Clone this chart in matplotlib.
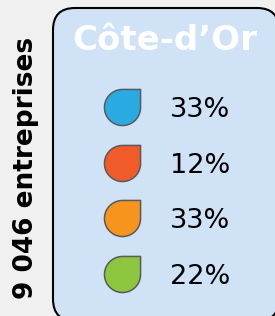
import matplotlib
matplotlib.use("Agg")
import matplotlib.pyplot as plt
import numpy as np
from matplotlib.path import Path
from matplotlib.patches import FancyBboxPatch

# data
region = "Côte-d\u2019Or"
total_label = "9 046 entreprises"
shares = [33, 12, 33, 22]
colors = ["#29abe2", "#f15a29", "#f7941d", "#8dc63f"]

W, H = 275, 316
fig = plt.figure(figsize=(W / 100, H / 100), dpi=100, facecolor="#f0f0f0")

# background layer in pixel coordinates
bg = fig.add_axes([0, 0, 1, 1])
bg.set_xlim(0, W)
bg.set_ylim(H, 0)
bg.axis("off")
box = FancyBboxPatch((53, 8), 226, 313,
                     boxstyle="round,pad=0,rounding_size=22",
                     facecolor="#cfe2f6", edgecolor="black", linewidth=1.5)
bg.add_patch(box)
bg.text(165, 40, region, color="white", fontsize=24.5, fontweight="bold",
        ha="center", va="center")
bg.text(26, 168, total_label, color="black", fontsize=19, fontweight="bold",
        rotation=90, ha="center", va="center")

# drop marker: circle with the top-right quarter squared off
arc = Path.arc(90, 360)
verts = np.vstack([arc.vertices, [[1, 1], [0, 1], [0, 1]]])
codes = np.concatenate([arc.codes, [Path.LINETO, Path.LINETO, Path.CLOSEPOLY]])
drop = Path(verts, codes)

rows = fig.add_axes([0, 0.0443, 1, 0.706])
rows.set_xlim(0, W)
rows.set_ylim(len(shares) - 0.5, -0.5)
rows.axis("off")
for i, (s, c) in enumerate(zip(shares, colors)):
    rows.plot(122, i, marker=drop, markersize=26.5, color=c,
              markeredgecolor="#5a5a5a", markeredgewidth=1.1)
    rows.text(170, i, f"{s}%", fontsize=19.5, ha="left", va="center_baseline",
              color="black")

fig.savefig("out.png", dpi=100, facecolor=fig.get_facecolor())
